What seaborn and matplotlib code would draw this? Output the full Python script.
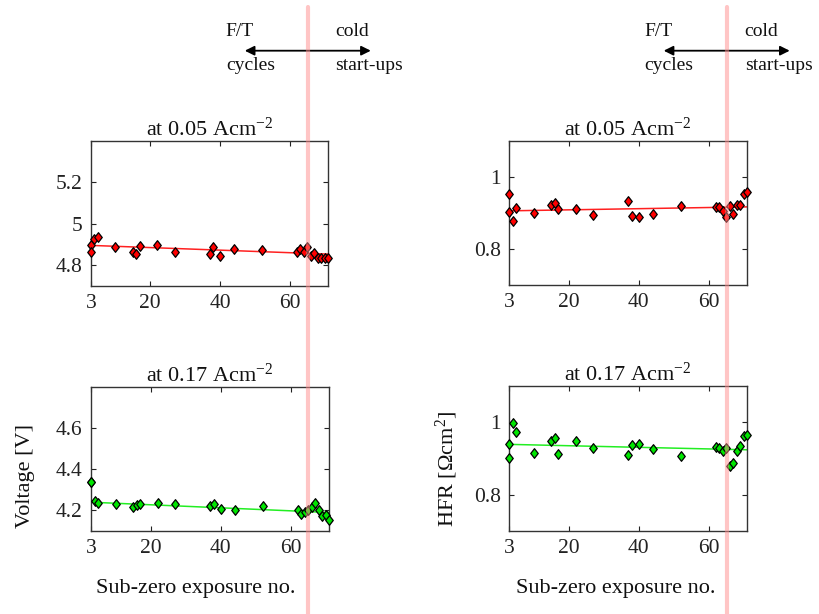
import numpy as np
import pandas as pd
import matplotlib
matplotlib.use("Agg")
import matplotlib.pyplot as plt
import seaborn as sns
from matplotlib.lines import Line2D
from matplotlib.patches import FancyArrowPatch
from matplotlib.path import Path
from matplotlib.ticker import FuncFormatter

# Sub-zero exposure number of each measurement
exposure = [3, 3, 4, 5, 10, 15, 16, 17, 22, 27, 37, 38, 40, 44, 52,
            62, 63, 64, 65, 66, 67, 68, 69, 70, 71]

# Cell voltage [V]
voltage_005 = [4.898, 4.864, 4.927, 4.937, 4.887, 4.866, 4.854, 4.895, 4.896,
               4.866, 4.854, 4.887, 4.846, 4.877, 4.875,
               4.864, 4.879, 4.866, 4.887, 4.845, 4.857, 4.836, 4.836, 4.836, 4.835]
voltage_017 = [4.338, 4.338, 4.248, 4.235, 4.232, 4.216, 4.226, 4.232, 4.235,
               4.229, 4.222, 4.229, 4.208, 4.200, 4.222,
               4.200, 4.182, 4.193, 4.200, 4.219, 4.236, 4.203, 4.172, 4.176, 4.155]

# High frequency resistance [Ohm cm2]
hfr_005 = [0.952, 0.904, 0.877, 0.914, 0.899, 0.921, 0.929, 0.912, 0.912,
           0.895, 0.933, 0.893, 0.888, 0.898, 0.920,
           0.918, 0.916, 0.906, 0.888, 0.920, 0.896, 0.923, 0.922, 0.954, 0.958]
hfr_017 = [0.941, 0.901, 0.997, 0.974, 0.915, 0.947, 0.957, 0.912, 0.948,
           0.928, 0.910, 0.936, 0.939, 0.925, 0.908,
           0.931, 0.929, 0.922, 0.930, 0.879, 0.887, 0.920, 0.935, 0.961, 0.966]

# Linear trend lines: value at the first and last exposure
trend_x = [3, 71]
trend_voltage_005 = [4.896, 4.854]
trend_voltage_017 = [4.240, 4.190]
trend_hfr_005 = [0.906, 0.917]
trend_hfr_017 = [0.939, 0.924]

x_ticks = [3, 20, 40, 60]
boundary = 65.2  # switch from F/T cycles to cold start-ups

sns.set_theme(style="ticks")
plt.rcParams["font.family"] = ["Liberation Serif", "DejaVu Serif"]
plt.rcParams["mathtext.fontset"] = "custom"
plt.rcParams["mathtext.rm"] = "Liberation Serif"
plt.rcParams["mathtext.it"] = "Liberation Serif:italic"

W, H = 819, 614
fig = plt.figure(figsize=(W / 100, H / 100), dpi=100)


def px_box(left, top, right, bottom):
    return [left / W, 1 - bottom / H, (right - left) / W, (bottom - top) / H]


# slightly tall diamond marker
diamond = Path([(0, 1), (0.78, 0), (0, -1), (-0.78, 0), (0, 1)],
               [Path.MOVETO, Path.LINETO, Path.LINETO, Path.LINETO, Path.CLOSEPOLY])

RED, RED_LINE = "#ff0000", "#ff2020"
GREEN, GREEN_LINE = "#00e600", "#22ee22"
TXT = "#111111"

panels = [
    (px_box(91, 141, 328, 286), voltage_005, trend_voltage_005, RED, RED_LINE,
     (4.7, 5.4), [4.8, 5.0, 5.2], r"at 0.05 Acm$^{\mathrm{-2}}$"),
    (px_box(91, 387, 329, 531), voltage_017, trend_voltage_017, GREEN, GREEN_LINE,
     (4.1, 4.8), [4.2, 4.4, 4.6], r"at 0.17 Acm$^{\mathrm{-2}}$"),
    (px_box(509, 141, 747, 285), hfr_005, trend_hfr_005, RED, RED_LINE,
     (0.7, 1.1), [0.8, 1.0], r"at 0.05 Acm$^{\mathrm{-2}}$"),
    (px_box(509, 386, 747, 531), hfr_017, trend_hfr_017, GREEN, GREEN_LINE,
     (0.7, 1.1), [0.8, 1.0], r"at 0.17 Acm$^{\mathrm{-2}}$"),
]

axes = []
for pos, values, trend, fill, line_col, ylim, yticks, title in panels:
    ax = fig.add_axes(pos)
    df = pd.DataFrame({"exposure": exposure, "value": values})
    sns.lineplot(x=trend_x, y=trend, color=line_col, lw=1.1, ax=ax, zorder=2)
    sns.scatterplot(data=df, x="exposure", y="value", marker=diamond, s=48,
                    color=fill, edgecolor="black", linewidth=0.9,
                    ax=ax, zorder=3, legend=False, clip_on=False)
    ax.set_xlim(3, 71)
    ax.set_ylim(*ylim)
    ax.set_xticks(x_ticks)
    ax.set_yticks(yticks)
    ax.yaxis.set_major_formatter(FuncFormatter(lambda v, p: f"{v:g}"))
    ax.tick_params(direction="in", top=True, right=True, length=3.5,
                   width=0.8, labelsize=15.5, colors="#222222", pad=6)
    ax.tick_params(axis="x", pad=6)
    for sp in ax.spines.values():
        sp.set_color("#333333")
        sp.set_linewidth(1.0)
    ax.set_title(title, fontsize=16, pad=4, color=TXT)
    ax.set_xlabel("")
    ax.set_ylabel("")
    axes.append(ax)

axes[1].set_xlabel("Sub-zero exposure no.", fontsize=16, color=TXT)
axes[1].xaxis.set_label_coords(0.44, -0.33)
axes[3].set_xlabel("Sub-zero exposure no.", fontsize=16, color=TXT)
axes[3].xaxis.set_label_coords(0.45, -0.33)
axes[1].set_ylabel("Voltage [V]", fontsize=16, color=TXT)
axes[1].yaxis.set_label_coords(-0.235, 0.38)
axes[3].set_ylabel(r"HFR [$\Omega$cm$^2$]", fontsize=16, color=TXT)
axes[3].yaxis.set_label_coords(-0.206, 0.43)

# Boundary line and regime annotations for each column
inv = fig.transFigure.inverted()
for ax, right_off in ((axes[0], 27), (axes[2], 18)):
    xf = inv.transform(ax.transData.transform((boundary, 0)))[0]
    fig.add_artist(Line2D([xf, xf], [0, 1 - 7 / H], transform=fig.transFigure,
                          color="#ff8c8c", alpha=0.5, lw=3.0, zorder=10))
    ya = 1 - 50.7 / H
    fig.add_artist(FancyArrowPatch((xf - 63 / W, ya), (xf + 63 / W, ya),
                                   transform=fig.transFigure,
                                   arrowstyle="<|-|>", mutation_scale=14,
                                   color="black", lw=1.3, shrinkA=0, shrinkB=0))
    for txt, dx, dy in (("F/T", -82, 32), ("cycles", -82, 65),
                        ("cold", right_off, 32), ("start-ups", right_off, 65)):
        fig.text(xf + dx / W, 1 - dy / H, txt, fontsize=14, ha="left",
                 va="center", color=TXT)

fig.savefig("out.png", dpi=100, facecolor="white")
